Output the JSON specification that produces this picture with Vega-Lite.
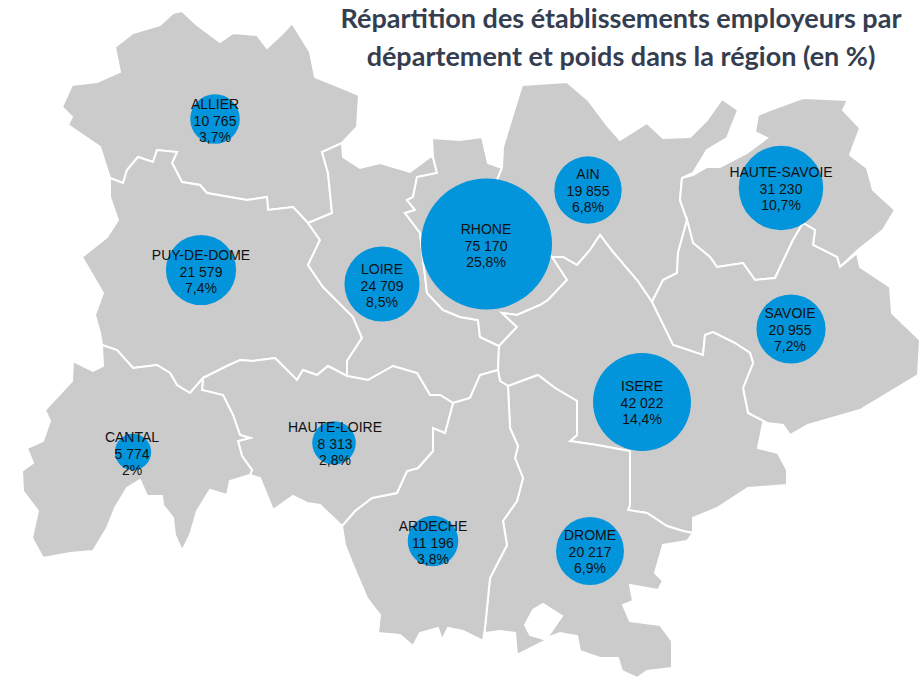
{
"$schema":"https://vega.github.io/schema/vega-lite/v6.json",
"width":920,"height":678,"padding":0,"autosize":"none","background":"white",
"title":{"text":["Répartition des établissements employeurs par","département et poids dans la région (en %)"],"anchor":"middle","frame":"group","baseline":"top","align":"center","offset":0,"dx":161,"dy":72,"font":"Lato","fontSize":27,"fontWeight":"bold","color":"#343E50","lineHeight":38},
"projection":{"type":"identity","scale":1,"translate":[0,0]},
"config":{"view":{"stroke":null}},
"layer":[
{"data":{"values":[
{"type":"Feature","properties":{"name":"ALLIER"},"geometry":{"type":"Polygon","coordinates":[[[62,107],[72,85],[97,82],[120,72],[115,47],[133,33],[160,25],[173,13],[182,11],[197,25],[220,42],[233,33],[257,35],[267,48],[283,33],[292,23],[310,52],[315,77],[347,90],[359,95],[357,127],[342,143],[322,152],[328,173],[332,213],[308,223],[293,207],[268,210],[267,197],[247,200],[207,193],[200,185],[182,182],[172,163],[177,152],[157,150],[153,162],[138,157],[127,170],[123,183],[110,178],[100,147],[68,125],[72,117],[62,107]]]}},
{"type":"Feature","properties":{"name":"PUY-DE-DOME"},"geometry":{"type":"Polygon","coordinates":[[[110,178],[123,183],[127,170],[138,157],[153,162],[157,150],[177,152],[172,163],[182,182],[200,185],[207,193],[247,200],[267,197],[268,210],[293,207],[308,223],[320,240],[308,265],[323,287],[353,317],[362,338],[347,361],[347,376],[328,366],[317,375],[303,370],[297,380],[275,358],[253,361],[240,360],[227,366],[203,378],[190,393],[177,385],[170,373],[157,365],[133,368],[117,350],[102,345],[100,333],[95,315],[103,293],[82,257],[107,237],[118,220],[110,197],[110,178]]]}},
{"type":"Feature","properties":{"name":"LOIRE"},"geometry":{"type":"Polygon","coordinates":[[[342,143],[343,157],[360,168],[380,163],[410,172],[430,157],[433,157],[437,173],[417,177],[413,197],[407,200],[415,210],[405,213],[420,233],[427,293],[443,310],[460,317],[478,320],[480,337],[499,346],[498,370],[480,375],[470,398],[453,403],[440,395],[430,395],[417,373],[393,366],[368,380],[347,376],[347,361],[362,338],[353,317],[323,287],[308,265],[320,240],[308,223],[332,213],[328,173],[322,152],[342,143]]]}},
{"type":"Feature","properties":{"name":"RHONE"},"geometry":{"type":"Polygon","coordinates":[[[433,157],[432,138],[460,140],[482,137],[488,163],[502,168],[497,180],[552,257],[563,257],[567,280],[548,300],[540,305],[517,315],[502,313],[517,327],[499,346],[480,337],[478,320],[460,317],[443,310],[427,293],[420,233],[405,213],[415,210],[407,200],[413,197],[417,177],[437,173],[433,157]]]}},
{"type":"Feature","properties":{"name":"AIN"},"geometry":{"type":"Polygon","coordinates":[[[497,180],[502,168],[503,147],[522,85],[567,82],[588,100],[607,125],[620,140],[647,123],[663,138],[690,137],[707,120],[722,99],[738,110],[727,138],[707,150],[693,173],[682,178],[680,200],[687,220],[678,253],[677,273],[663,280],[652,302],[637,280],[613,252],[600,235],[590,250],[577,265],[563,257],[552,257],[497,180]]]}},
{"type":"Feature","properties":{"name":"HAUTE-SAVOIE"},"geometry":{"type":"Polygon","coordinates":[[[687,220],[680,200],[682,178],[693,175],[707,167],[720,167],[747,153],[767,138],[755,132],[758,115],[770,110],[803,98],[848,100],[843,110],[860,128],[850,155],[867,168],[873,190],[895,210],[883,230],[858,250],[840,267],[837,257],[813,245],[815,230],[803,223],[793,240],[775,278],[755,280],[743,263],[717,267],[710,257],[693,243],[687,220]]]}},
{"type":"Feature","properties":{"name":"SAVOIE"},"geometry":{"type":"Polygon","coordinates":[[[652,302],[663,280],[677,273],[678,253],[687,220],[693,243],[710,257],[717,267],[743,263],[755,280],[775,278],[793,240],[803,223],[815,230],[813,245],[837,257],[840,267],[857,253],[860,267],[890,287],[892,313],[920,340],[918,375],[860,410],[808,425],[790,435],[783,425],[767,423],[748,413],[743,388],[753,363],[750,353],[735,343],[713,332],[705,335],[703,355],[673,345],[652,302]]]}},
{"type":"Feature","properties":{"name":"ISERE"},"geometry":{"type":"Polygon","coordinates":[[[652,302],[637,280],[613,252],[600,235],[590,250],[577,265],[563,257],[552,257],[567,280],[548,300],[540,305],[517,315],[502,313],[517,327],[499,346],[498,370],[500,381],[508,386],[538,375],[555,388],[577,401],[577,435],[570,441],[597,445],[613,448],[630,451],[630,505],[628,510],[647,513],[667,526],[683,531],[693,533],[693,518],[717,508],[748,488],[787,485],[787,470],[778,453],[758,448],[763,423],[767,423],[748,413],[743,388],[753,363],[750,353],[735,343],[713,332],[705,335],[703,355],[673,345],[652,302]]]}},
{"type":"Feature","properties":{"name":"DROME"},"geometry":{"type":"Polygon","coordinates":[[[508,386],[538,375],[555,388],[577,401],[577,435],[570,441],[597,445],[613,448],[630,451],[630,505],[628,510],[647,513],[667,526],[683,531],[693,533],[687,541],[663,545],[655,573],[663,581],[658,590],[630,585],[633,601],[623,605],[630,621],[660,625],[672,641],[672,668],[647,671],[637,678],[622,671],[618,658],[600,658],[580,651],[577,636],[560,633],[547,638],[562,616],[543,604],[533,610],[525,625],[530,635],[547,640],[517,655],[515,633],[500,631],[485,633],[485,628],[490,578],[507,545],[503,521],[517,501],[523,478],[515,458],[518,446],[510,428],[508,386]]]}},
{"type":"Feature","properties":{"name":"ARDECHE"},"geometry":{"type":"Polygon","coordinates":[[[498,370],[480,375],[470,398],[453,403],[445,433],[433,428],[433,451],[418,468],[407,471],[397,493],[372,498],[355,511],[342,526],[345,545],[353,565],[367,598],[380,615],[378,633],[400,635],[413,646],[420,633],[438,628],[442,640],[448,628],[463,631],[483,641],[485,628],[490,578],[507,545],[503,521],[517,501],[523,478],[515,458],[518,446],[510,428],[508,386],[500,381],[498,370]]]}},
{"type":"Feature","properties":{"name":"HAUTE-LOIRE"},"geometry":{"type":"Polygon","coordinates":[[[250,475],[252,470],[242,456],[238,441],[250,438],[240,435],[233,415],[223,395],[202,390],[203,378],[227,366],[240,360],[253,361],[275,358],[297,380],[303,370],[317,375],[328,366],[347,376],[368,380],[393,366],[417,373],[430,395],[440,395],[453,403],[445,433],[433,428],[433,451],[418,468],[407,471],[397,493],[372,498],[355,511],[342,526],[320,505],[307,503],[293,496],[273,510],[260,478],[250,475]]]}},
{"type":"Feature","properties":{"name":"CANTAL"},"geometry":{"type":"Polygon","coordinates":[[[102,345],[117,350],[133,368],[157,365],[170,373],[177,385],[190,393],[203,378],[202,390],[223,395],[233,415],[240,435],[250,438],[238,441],[242,456],[252,470],[250,475],[230,481],[227,495],[210,490],[197,511],[190,535],[182,551],[175,535],[173,518],[163,505],[162,496],[147,496],[140,480],[127,488],[115,508],[107,528],[93,551],[70,553],[43,558],[32,538],[38,511],[23,491],[22,471],[33,463],[27,448],[43,441],[50,421],[45,410],[72,381],[73,361],[93,371],[103,366],[102,345]]]}}
]},
"mark":{"type":"geoshape","fill":"#CBCBCB","stroke":"white","strokeWidth":2}},
{"data":{"name":"bubbles","values":[
{"dept":"ALLIER","etab":10765,"part":3.7,"cx":215,"cy":119,"lx":215,"ly":121,"label":"ALLIER\n10 765\n3,7%"},
{"dept":"PUY-DE-DOME","etab":21579,"part":7.4,"cx":201,"cy":270,"lx":201,"ly":272,"label":"PUY-DE-DOME\n21 579\n7,4%"},
{"dept":"LOIRE","etab":24709,"part":8.5,"cx":382,"cy":284,"lx":382,"ly":286,"label":"LOIRE\n24 709\n8,5%"},
{"dept":"RHONE","etab":75170,"part":25.8,"cx":486.5,"cy":244,"lx":486,"ly":246,"label":"RHONE\n75 170\n25,8%"},
{"dept":"AIN","etab":19855,"part":6.8,"cx":588,"cy":190,"lx":588,"ly":191,"label":"AIN\n19 855\n6,8%"},
{"dept":"HAUTE-SAVOIE","etab":31230,"part":10.7,"cx":781,"cy":188,"lx":781,"ly":189,"label":"HAUTE-SAVOIE\n31 230\n10,7%"},
{"dept":"SAVOIE","etab":20955,"part":7.2,"cx":791,"cy":329,"lx":790,"ly":330,"label":"SAVOIE\n20 955\n7,2%"},
{"dept":"ISERE","etab":42022,"part":14.4,"cx":642,"cy":402,"lx":642,"ly":403,"label":"ISERE\n42 022\n14,4%"},
{"dept":"CANTAL","etab":5774,"part":2,"cx":133,"cy":452,"lx":132,"ly":454,"label":"CANTAL\n5 774\n2%"},
{"dept":"HAUTE-LOIRE","etab":8313,"part":2.8,"cx":334,"cy":443,"lx":335,"ly":444,"label":"HAUTE-LOIRE\n8 313\n2,8%"},
{"dept":"ARDECHE","etab":11196,"part":3.8,"cx":433,"cy":541,"lx":433,"ly":543,"label":"ARDECHE\n11 196\n3,8%"},
{"dept":"DROME","etab":20217,"part":6.9,"cx":590,"cy":551,"lx":590,"ly":552,"label":"DROME\n20 217\n6,9%"}
]},
"mark":{"type":"circle","opacity":1,"fill":"#0395DC"},
"encoding":{"longitude":{"field":"cx","type":"quantitative"},"latitude":{"field":"cy","type":"quantitative"},
"size":{"field":"etab","type":"quantitative","scale":{"domain":[0,75170],"range":[0,17161]},"legend":null}}},
{"data":{"name":"bubbles"},
"mark":{"type":"text","font":"Liberation Sans","fontSize":14,"color":"#111111","align":"center","baseline":"middle","lineBreak":"\n","lineHeight":16.7,"dy":-16},
"encoding":{"longitude":{"field":"lx","type":"quantitative"},"latitude":{"field":"ly","type":"quantitative"},"text":{"field":"label","type":"nominal"}}}
]
}
